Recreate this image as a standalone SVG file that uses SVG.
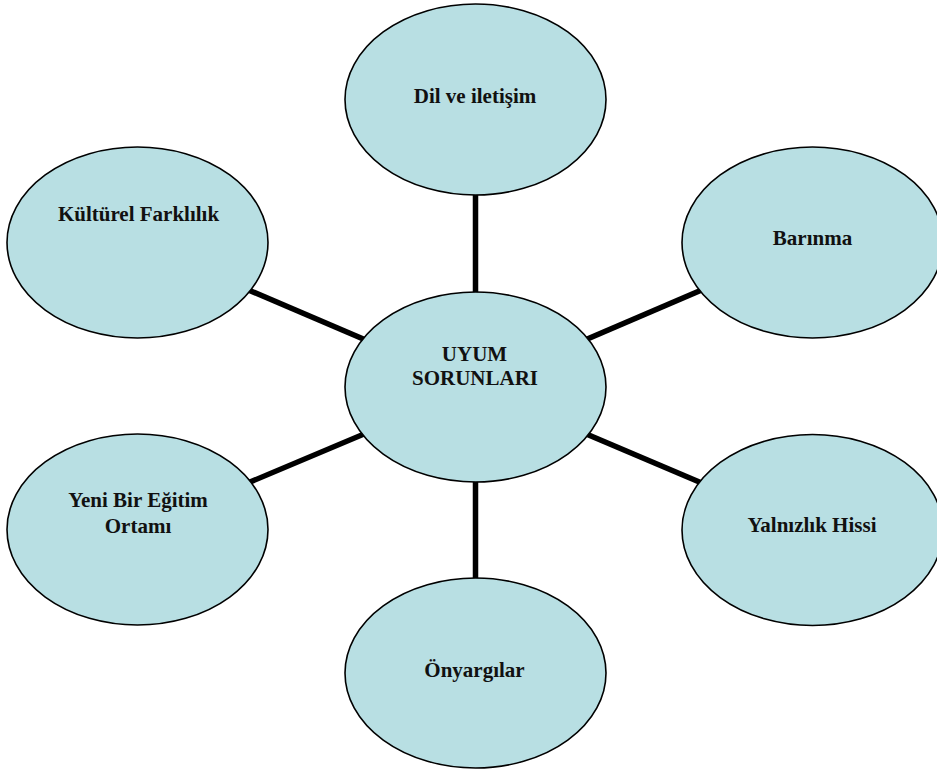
<svg xmlns="http://www.w3.org/2000/svg" width="937" height="769" viewBox="0 0 937 769">
<style>
.node ellipse{fill:#b8dfe3;stroke:#000;stroke-width:1.6}
.node text{font-weight:bold;font-size:21px;fill:#111;text-anchor:middle}
#connectors line{stroke:#000;stroke-width:5.5}
</style>
<rect width="937" height="769" fill="#fff"/>
<g id="connectors">
<line x1="475.5" y1="387" x2="475.5" y2="99.5"/>
<line x1="475.5" y1="387" x2="137.5" y2="242.5"/>
<line x1="475.5" y1="387" x2="812.5" y2="242.5"/>
<line x1="475.5" y1="387" x2="137.5" y2="529.5"/>
<line x1="475.5" y1="387" x2="812.5" y2="530"/>
<line x1="475.5" y1="387" x2="475.5" y2="673"/>
</g>
<g font-family="'Liberation Serif', 'DejaVu Serif', serif">
<g id="node-dil" class="node"><ellipse cx="475.5" cy="99.5" rx="130.5" ry="95.5"/><text x="475" y="103">Dil ve iletişim</text></g>
<g id="node-kulturel" class="node"><ellipse cx="137.5" cy="242.5" rx="130.5" ry="95.5"/><text x="138.5" y="221">Kültürel Farklılık</text></g>
<g id="node-barinma" class="node"><ellipse cx="812.5" cy="242.5" rx="130.5" ry="95.5"/><text x="812.5" y="245">Barınma</text></g>
<g id="node-uyum" class="node"><ellipse cx="475.5" cy="387" rx="130.5" ry="95"/><text x="474.5" y="361">UYUM</text><text x="475" y="384.5">SORUNLARI</text></g>
<g id="node-yeni" class="node"><ellipse cx="137.5" cy="529.5" rx="130.5" ry="95.5"/><text x="138" y="507">Yeni Bir Eğitim</text><text x="138" y="533">Ortamı</text></g>
<g id="node-yalnizlik" class="node"><ellipse cx="812.5" cy="530" rx="130.5" ry="95.5"/><text x="812" y="532">Yalnızlık Hissi</text></g>
<g id="node-onyargilar" class="node"><ellipse cx="475.5" cy="673" rx="130.5" ry="95"/><text x="474.5" y="677">Önyargılar</text></g>
</g>
</svg>
